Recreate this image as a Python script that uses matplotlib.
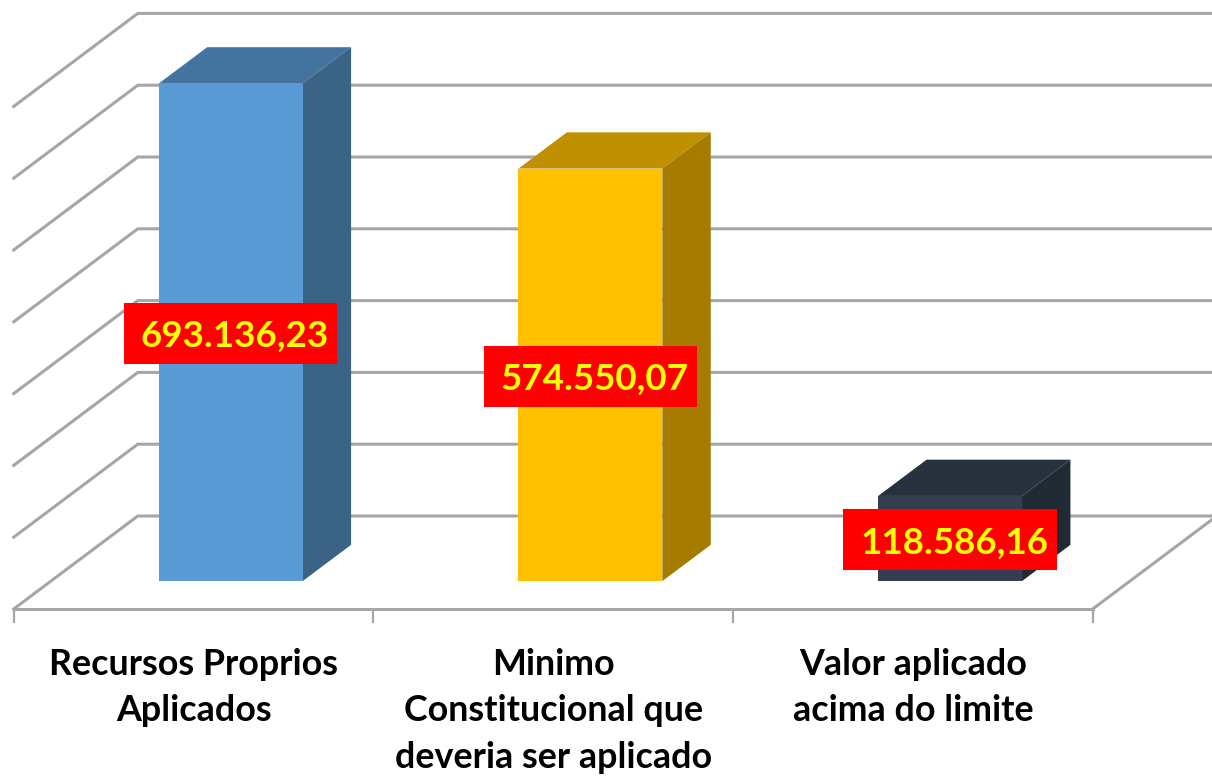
import matplotlib
matplotlib.use("Agg")
import matplotlib.pyplot as plt
from matplotlib.patches import Rectangle

categories = ["Recursos Proprios\nAplicados",
              "Minimo\nConstitucional que\ndeveria ser aplicado",
              "Valor aplicado\nacima do limite"]
values = [693136.23, 574550.07, 118586.16]
value_labels = ["693.136,23", "574.550,07", "118.586,16"]
grid_values = [0, 100000, 200000, 300000, 400000, 500000, 600000, 700000]

front_colors = ["#5B9BD5", "#FFC000", "#333F50"]
top_colors = ["#45739F", "#BF9000", "#28323F"]
side_colors = ["#3A6385", "#A67C00", "#202A35"]

# fake 3d: depth goes right and up, d=0 is the front of the floor, d=1 the wall
DEPTH_X = 0.345
DEPTH_Y = 129500
BAR_LEFT = 0.300
BAR_W = 0.40
D_FRONT = 0.30
D_BACK = 0.69
GRID = "#A6A6A6"


def proj(x, v, d):
    return x + d * DEPTH_X, v - (1 - d) * DEPTH_Y


def face(ax, pts, color):
    xs = [p[0] for p in pts]
    ys = [p[1] for p in pts]
    ax.fill(xs, ys, color=color, lw=0, zorder=3)


fig = plt.figure(figsize=(12.12, 7.79), dpi=100)
ax = fig.add_axes([0, 0, 1, 1])
ax.set_xlim(-13.7 / 359.67, 1198.3 / 359.67)
ax.set_ylim(-366300, 718700)

# walls
for g in grid_values:
    x0, y0 = proj(0, g, 0)
    x1, y1 = proj(0, g, 1)
    x2, y2 = proj(3, g, 1)
    ax.plot([x0, x1, x2], [y0, y1, y2], color=GRID, lw=2.2, zorder=1, solid_joinstyle="miter")
x0, y0 = proj(3, 0, 0)
x1, y1 = proj(3, 0, 1)
ax.plot([x0, x1], [y0, y1], color=GRID, lw=2.2, zorder=1)

# bars
for i, v in enumerate(values):
    l = i + BAR_LEFT
    r = l + BAR_W
    face(ax, [proj(l, v, D_FRONT), proj(r, v, D_FRONT), proj(r, v, D_BACK), proj(l, v, D_BACK)], top_colors[i])
    face(ax, [proj(r, 0, D_FRONT), proj(r, 0, D_BACK), proj(r, v, D_BACK), proj(r, v, D_FRONT)], side_colors[i])
    face(ax, [proj(l, 0, D_FRONT), proj(r, 0, D_FRONT), proj(r, v, D_FRONT), proj(l, v, D_FRONT)], front_colors[i])

    # label sits in the middle of the front face
    cx, cy = proj(l + BAR_W / 2, v / 2, D_FRONT)
    cy = cy - 2000
    ax.add_patch(Rectangle((cx - 0.297, cy - 42500), 0.593, 85000, color="#FF0000", lw=0, zorder=4))
    ax.text(cx + 0.012, cy, value_labels[i], color="#FFFF00", fontsize=26.5, fontweight="bold",
            family="Lato", ha="center", va="center_baseline", zorder=5)

# category axis
ax.spines[["top", "left", "right"]].set_visible(False)
ax.spines["bottom"].set_position(("data", -DEPTH_Y))
ax.spines["bottom"].set_bounds(0, 3)
ax.spines["bottom"].set_color(GRID)
ax.spines["bottom"].set_linewidth(2.2)
ax.set_yticks([])
ax.set_xticks([0, 1, 2, 3])
ax.set_xticklabels([])
ax.tick_params(axis="x", which="major", length=10, width=1.6, color=GRID)
ax.set_xticks([0.5, 1.5, 2.5], minor=True)
ax.set_xticklabels(categories, minor=True, fontsize=25.8, fontweight="bold", family="Lato",
                   color="black", linespacing=1.5, va="top")
ax.tick_params(axis="x", which="minor", length=0, pad=28)

fig.savefig("out.png", dpi=100)
